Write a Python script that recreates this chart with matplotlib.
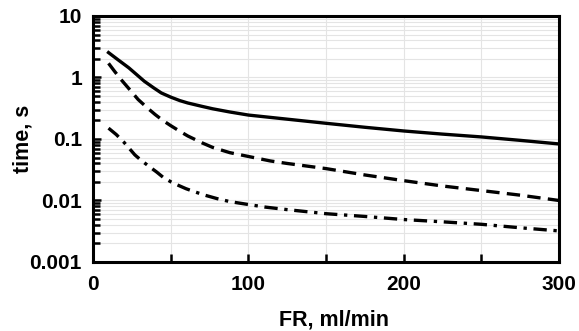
import matplotlib
matplotlib.use("Agg")
import matplotlib.pyplot as plt
from matplotlib.ticker import LogLocator, NullFormatter, FixedLocator

plt.rcParams['font.family'] = ['Liberation Sans', 'DejaVu Sans']
plt.rcParams['font.weight'] = 'bold'

# values (FR in ml/min, time in s)
fr_solid = [10, 16, 23, 28, 33, 39, 44, 50, 56, 61, 70, 77, 88, 100, 125, 150, 175, 200, 225, 250, 275, 300]
t_solid = [2.54, 1.95, 1.44, 1.12, 0.87, 0.68, 0.56, 0.48, 0.42, 0.385, 0.34, 0.31, 0.275, 0.245, 0.21, 0.18, 0.155, 0.135, 0.12, 0.108, 0.095, 0.083]

fr_dash = [10, 14, 18, 24, 29, 35, 40, 45, 50, 56, 61, 70, 77, 88, 100, 114, 125, 150, 175, 200, 225, 250, 275, 300]
t_dash = [1.7, 1.25, 0.93, 0.62, 0.44, 0.32, 0.25, 0.2, 0.165, 0.133, 0.112, 0.087, 0.073, 0.06, 0.052, 0.044, 0.040, 0.033, 0.026, 0.021, 0.0172, 0.0145, 0.0122, 0.010]

fr_dashdot = [10, 15, 20, 27, 31, 36, 41, 45, 50, 55, 60, 66, 72, 80, 88, 100, 111, 125, 150, 175, 200, 225, 250, 275, 300]
t_dashdot = [0.15, 0.118, 0.088, 0.055, 0.045, 0.036, 0.029, 0.024, 0.0202, 0.0176, 0.0155, 0.0137, 0.0122, 0.0107, 0.0096, 0.0086, 0.0078, 0.0071, 0.0061, 0.0055, 0.0049, 0.0045, 0.0041, 0.0036, 0.0032]

fig = plt.figure(figsize=(5.79, 3.31), dpi=100)
ax = fig.add_axes([0.1606, 0.2085, 0.805, 0.7432])

ax.plot(fr_solid, t_solid, color='black', lw=2.4, ls='-')
ax.plot(fr_dash, t_dash, color='black', lw=2.4, ls=(0, (4, 2.2)))
ax.plot(fr_dashdot, t_dashdot, color='black', lw=2.4, ls=(0, (4, 2, 1, 2)))

ax.set_yscale('log')
ax.set_xlim(0, 300)
ax.set_ylim(0.001, 10)

ax.xaxis.set_major_locator(FixedLocator([0, 100, 200, 300]))
ax.xaxis.set_minor_locator(FixedLocator([50, 150, 250]))
ax.yaxis.set_minor_locator(LogLocator(base=10, subs=range(2, 10), numticks=20))
ax.yaxis.set_minor_formatter(NullFormatter())
ax.set_yticks([0.001, 0.01, 0.1, 1, 10])
ax.set_yticklabels(['0.001', '0.01', '0.1', '1', '10'])

ax.grid(True, which='both', color='#e4e4e4', lw=0.8)
ax.set_axisbelow(True)

ax.tick_params(axis='both', which='both', direction='in', width=1.8, labelsize=15)
ax.tick_params(axis='x', which='both', length=6, pad=9.5)
ax.tick_params(axis='y', which='major', length=6, pad=8)
ax.tick_params(axis='y', which='minor', length=5)
for s in ax.spines.values():
    s.set_linewidth(2.2)

ax.set_xlabel('FR, ml/min', fontsize=15.5, fontweight='bold', va='center')
ax.xaxis.set_label_coords(0.518, -0.236)
ax.set_ylabel('time, s', fontsize=15.5, fontweight='bold', va='center')
ax.yaxis.set_label_coords(-0.150, 0.5)

fig.savefig('out.png', dpi=100)
